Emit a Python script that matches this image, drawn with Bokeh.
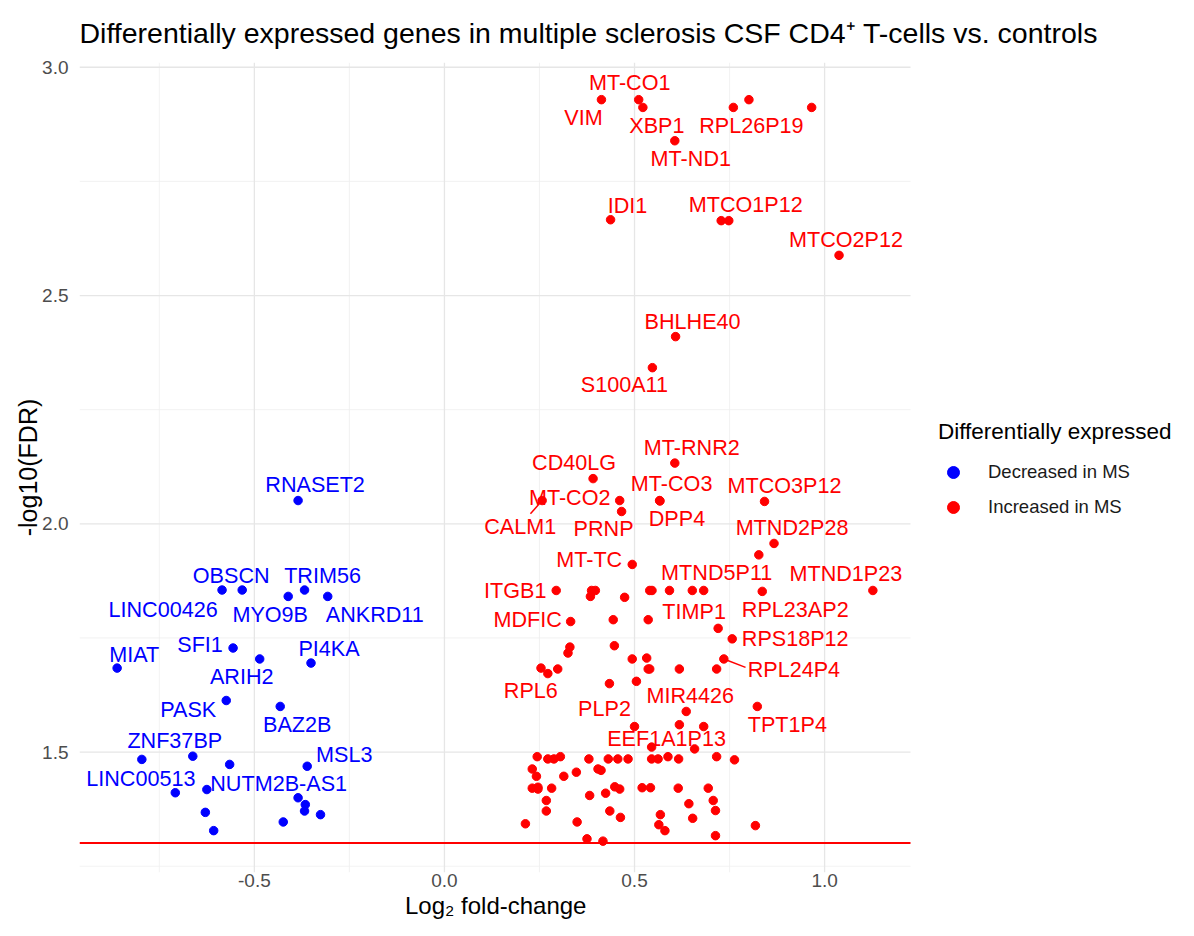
import numpy as np
from bokeh.plotting import figure
from bokeh.models import (ColumnDataSource, FixedTicker, Legend, LegendItem, Title,
                          CustomJSTickFormatter)
from bokeh.embed import file_html
from bokeh.resources import INLINE
from bokeh.core.properties import value

# ---------------- data ----------------
down_gene = ["RNASET2", "LINC00426", "OBSCN", "TRIM56", "MYO9B", "ANKRD11", "SFI1",
             "ARIH2", "PI4KA", "MIAT", "PASK", "BAZ2B", "ZNF37BP", "LINC00513", "",
             "NUTM2B-AS1", "MSL3", "", "", "", "", "", "", "", ""]
down_lfc = [-0.385, -0.585, -0.532, -0.368, -0.411, -0.307, -0.556, -0.486, -0.351,
            -0.861, -0.574, -0.432, -0.662, -0.796, -0.708, -0.565, -0.361, -0.625,
            -0.385, -0.366, -0.368, -0.326, -0.629, -0.424, -0.607]
down_nlfdr = [2.051, 1.855, 1.855, 1.855, 1.841, 1.841, 1.728, 1.704, 1.695, 1.684,
              1.613, 1.600, 1.491, 1.484, 1.411, 1.473, 1.469, 1.418, 1.400, 1.385,
              1.371, 1.363, 1.368, 1.347, 1.328]

up_gene = ["VIM", "MT-CO1", "XBP1", "RPL26P19", "", "", "MT-ND1", "IDI1", "", "MTCO1P12",
           "MTCO2P12", "BHLHE40", "S100A11", "MT-RNR2", "CD40LG", "CALM1", "MT-CO2", "PRNP",
           "MT-CO3", "DPP4", "MTCO3P12", "MTND2P28", "", "MT-TC", "ITGB1", "", "", "", "",
           "", "", "", "", "MTND5P11", "RPL23AP2", "MTND1P23", "MDFIC", "", "", "TIMP1",
           "RPS18P12", "", "", "", "", "", "", "", "", "", "RPL24P4", "", "RPL6", "", "",
           "", "TPT1P4", "MIR4426", "", "", "PLP2", "EEF1A1P13", "",
           "", "", "", "", "", "", "", "", "", "", "", "", "", "",
           "", "", "", "", "", "",
           "", "", "", "", "", "", "", "", "", "",
           "", "", "", "", "",
           "", "", "", "", "", "",
           "", "", "", "", "", "",
           "", ""]
up_lfc = [0.413, 0.511, 0.522, 0.760, 0.801, 0.966, 0.606, 0.437, 0.728, 0.748,
          1.038, 0.608, 0.547, 0.606, 0.391, 0.257, 0.461, 0.466, 0.566, 0.567,
          0.842, 0.867, 0.827, 0.494, 0.294, 0.387, 0.397, 0.384, 0.474, 0.540,
          0.546, 0.592, 0.652, 0.682, 0.836, 1.127, 0.332, 0.444, 0.536, 0.720,
          0.757, 0.330, 0.325, 0.447, 0.494, 0.532, 0.536, 0.540, 0.618, 0.716,
          0.735, 0.254, 0.272, 0.298, 0.434, 0.505, 0.823, 0.636, 0.618, 0.682,
          0.500, 0.545, 0.658,
          0.244, 0.272, 0.288, 0.305, 0.380, 0.431, 0.456, 0.483, 0.545, 0.562,
          0.588, 0.616, 0.716, 0.763,
          0.231, 0.404, 0.412, 0.242, 0.314, 0.347,
          0.231, 0.246, 0.246, 0.282, 0.448, 0.461, 0.520, 0.542, 0.615, 0.694,
          0.268, 0.382, 0.424, 0.707, 0.643,
          0.268, 0.435, 0.463, 0.568, 0.653, 0.713,
          0.213, 0.349, 0.564, 0.580, 0.713, 0.818,
          0.375, 0.417]
up_nlfdr = [2.929, 2.929, 2.912, 2.912, 2.929, 2.912, 2.839, 2.666, 2.664, 2.664,
            2.588, 2.410, 2.342, 2.133, 2.099, 2.051, 2.051, 2.027, 2.051, 2.050,
            2.049, 1.957, 1.932, 1.911, 1.854, 1.854, 1.854, 1.841, 1.839, 1.854,
            1.854, 1.854, 1.854, 1.854, 1.852, 1.854, 1.786, 1.790, 1.790, 1.771,
            1.748, 1.730, 1.717, 1.733, 1.704, 1.706, 1.682, 1.682, 1.682, 1.682,
            1.704, 1.684, 1.672, 1.682, 1.650, 1.655, 1.600, 1.589, 1.560, 1.556,
            1.556, 1.511, 1.507,
            1.490, 1.485, 1.485, 1.490, 1.485, 1.485, 1.485, 1.485, 1.485, 1.485,
            1.490, 1.485, 1.490, 1.483,
            1.463, 1.463, 1.460, 1.447, 1.447, 1.456,
            1.421, 1.423, 1.419, 1.421, 1.424, 1.419, 1.422, 1.422, 1.421, 1.421,
            1.394, 1.405, 1.410, 1.394, 1.387,
            1.371, 1.371, 1.357, 1.363, 1.355, 1.372,
            1.343, 1.347, 1.341, 1.328, 1.317, 1.339,
            1.310, 1.305]

fdr_cutoff = 0.05
x_major = [-0.5, 0.0, 0.5, 1.0]
x_minor = [-0.75, -0.25, 0.25, 0.75]
y_major = [1.5, 2.0, 2.5, 3.0]
y_minor = [1.25, 1.75, 2.25, 2.75]

# ---------------- layout of the repelled labels (screen px offsets) ----------------
label_offset = {
    "VIM": (-18, 18), "MT-CO1": (-9, -17), "XBP1": (14, 18), "RPL26P19": (18, 18),
    "MT-ND1": (16, 18), "IDI1": (17, -14), "MTCO1P12": (17, -16), "MTCO2P12": (7, -16),
    "BHLHE40": (17, -15), "S100A11": (-28, 17), "MT-RNR2": (17, -16), "CD40LG": (-19, -16),
    "MT-CO2": (-50, -3), "CALM1": (-22, 26), "PRNP": (-18, 17), "MT-CO3": (12, -17),
    "DPP4": (17, 18), "MTCO3P12": (20, -16), "MTND2P28": (18, -16), "MT-TC": (-43, -5),
    "MTND5P11": (13, -18), "MTND1P23": (-27, -17), "ITGB1": (-41, 0), "RPL23AP2": (33, 18),
    "TIMP1": (-24, -17), "MDFIC": (-43, -2), "RPS18P12": (63, 0), "RPL24P4": (70, 11),
    "RPL6": (-17, 17), "MIR4426": (4, -16), "PLP2": (-30, -18), "TPT1P4": (30, 18),
    "EEF1A1P13": (15, -9),
    "RNASET2": (17, -16), "OBSCN": (-11, -15), "TRIM56": (18, -15), "LINC00426": (-59, 19),
    "MYO9B": (-18, 18), "ANKRD11": (47, 18), "SFI1": (-33, -4), "MIAT": (17, -14),
    "PI4KA": (18, -15), "ARIH2": (-18, 18), "PASK": (-38, 9), "BAZ2B": (17, 18),
    "ZNF37BP": (-18, -16), "MSL3": (37, -12), "LINC00513": (-1, 19), "NUTM2B-AS1": (49, 19),
}
leader_end = {"CALM1": (-11.7, 13.3), "RPL24P4": (21.7, 8.4)}

# panel (data area) and canvas geometry
X0, X1 = -0.960, 1.226
Y0, Y1 = 1.2363, 3.0104
ML, MT = 79, 62
PANEL_W, FRAME_H = 831, 810
W, H = 1178, 920
FRAME_W = W - ML
px_per_x = PANEL_W / (X1 - X0)
px_per_y = FRAME_H / (Y1 - Y0)
X_END = X0 + FRAME_W / px_per_x   # frame continues right to hold the legend

BLUE = "#0000FF"
RED = "#FF0000"
FONT = "Liberation Sans"

p = figure(width=W, height=H, x_range=(X0, X_END), y_range=(Y0, Y1), output_backend="svg",
           toolbar_location=None, min_border_left=ML, min_border_right=0,
           min_border_top=MT, min_border_bottom=H - MT - FRAME_H)
p.outline_line_color = None
p.background_fill_color = "white"
p.border_fill_color = "white"
p.xgrid.visible = False
p.ygrid.visible = False

# title
p.title.text = "Differentially expressed genes in multiple sclerosis CSF CD4\u207a T-cells vs. controls"
p.title.text_font = FONT
p.title.text_font_size = "28.5px"
p.title.text_font_style = "normal"
p.title.text_color = "#000000"
p.title.align = "left"
p.title.offset = 0
p.title.standoff = 28

# axes
p.xaxis.ticker = FixedTicker(ticks=x_major, minor_ticks=x_minor)
p.yaxis.ticker = FixedTicker(ticks=y_major, minor_ticks=y_minor)
p.xaxis.bounds = (X0, X1)
fmt = CustomJSTickFormatter(code="return tick.toFixed(1);")
for ax in (p.xaxis, p.yaxis):
    ax.formatter = fmt
    ax.axis_line_color = None
    ax.major_tick_line_color = None
    ax.minor_tick_line_color = None
    ax.major_tick_out = 0
    ax.major_tick_in = 0
    ax.minor_tick_out = 0
    ax.major_label_text_font = FONT
    ax.major_label_text_font_size = "19px"
    ax.major_label_text_color = "#4D4D4D"
    ax.axis_label_text_font = FONT
    ax.axis_label_text_font_style = "normal"
    ax.axis_label_text_color = "#000000"
p.yaxis.axis_label = "-log10(FDR)"
p.yaxis.axis_label_text_font_size = "25px"
p.xaxis.major_label_standoff = 1
p.yaxis.major_label_standoff = 11
p.yaxis.axis_label_standoff = -3

# x-axis title, centred under the data panel (not under the whole frame)
xlab_font_px = 24
xlab_text = "Log\u2082 fold-change"
xtitle = Title(text=xlab_text, align="left", offset=PANEL_W / 2 - 90,
               text_font=FONT, text_font_size=f"{xlab_font_px}px", text_font_style="normal",
               text_color="#000000", standoff=0)
p.add_layout(xtitle, "below")

# grid lines restricted to the data panel
def grid(xs0, ys0, xs1, ys1, color, width):
    p.segment(xs0, ys0, xs1, ys1, line_color=color, line_width=width, level="underlay")

grid(x_minor, [Y0] * 4, x_minor, [Y1] * 4, "#EFEFEF", 0.8)
grid([X0] * 4, y_minor, [X1] * 4, y_minor, "#EFEFEF", 0.8)
grid(x_major, [Y0] * 4, x_major, [Y1] * 4, "#E6E6E6", 1.3)
grid([X0] * 4, y_major, [X1] * 4, y_major, "#E6E6E6", 1.3)

# significance threshold
thr = -np.log10(fdr_cutoff)
p.segment([X0], [thr], [X1], [thr], line_color=RED, line_width=2)

# points
down_src = ColumnDataSource(dict(x=down_lfc, y=down_nlfdr, gene=down_gene))
up_src = ColumnDataSource(dict(x=up_lfc, y=up_nlfdr, gene=up_gene))
r_down = p.scatter("x", "y", source=down_src, size=8.5, fill_color=BLUE, line_color=BLUE)
r_up = p.scatter("x", "y", source=up_src, size=8.5, fill_color=RED, line_color=RED)


def label_source(genes, xs, ys):
    d = dict(x=[], y=[], text=[], dx=[], dy=[])
    seg = dict(x0=[], y0=[], x1=[], y1=[])
    for g, xv, yv in zip(genes, xs, ys):
        if not g:
            continue
        dx, dy = label_offset[g]
        d["x"].append(xv); d["y"].append(yv); d["text"].append(g)
        d["dx"].append(dx); d["dy"].append(dy)
        if g in leader_end:
            ex, ey = leader_end[g]
            seg["x0"].append(xv); seg["y0"].append(yv)
            seg["x1"].append(xv + ex / px_per_x); seg["y1"].append(yv - ey / px_per_y)
    return ColumnDataSource(d), ColumnDataSource(seg)


for genes, xs, ys, col in ((down_gene, down_lfc, down_nlfdr, BLUE),
                           (up_gene, up_lfc, up_nlfdr, RED)):
    lsrc, ssrc = label_source(genes, xs, ys)
    p.segment("x0", "y0", "x1", "y1", source=ssrc, line_color=col, line_width=1.5)
    p.text("x", "y", text="text", x_offset="dx", y_offset="dy", source=lsrc,
           text_align="center", text_baseline="middle", text_color=col,
           text_font=value(FONT), text_font_size="21.6px")

# legend (inside the frame, right of the data panel)
legend = Legend(items=[LegendItem(label="Decreased in MS", renderers=[r_down]),
                       LegendItem(label="Increased in MS", renderers=[r_up])],
                title="Differentially expressed", location=(859, 350))
legend.title_text_font = FONT
legend.title_text_font_size = "22.5px"
legend.title_text_font_style = "normal"
legend.title_text_color = "#000000"
legend.title_standoff = 12
legend.label_text_font = FONT
legend.label_text_font_size = "18.5px"
legend.label_text_color = "#1A1A1A"
legend.glyph_width = 30
legend.glyph_height = 30
legend.label_height = 30
legend.spacing = 5
legend.label_standoff = 20
legend.padding = 0
legend.margin = 0
legend.border_line_color = None
legend.background_fill_alpha = 0
p.add_layout(legend, "center")

open("out.html", "w").write(file_html(p, INLINE))
